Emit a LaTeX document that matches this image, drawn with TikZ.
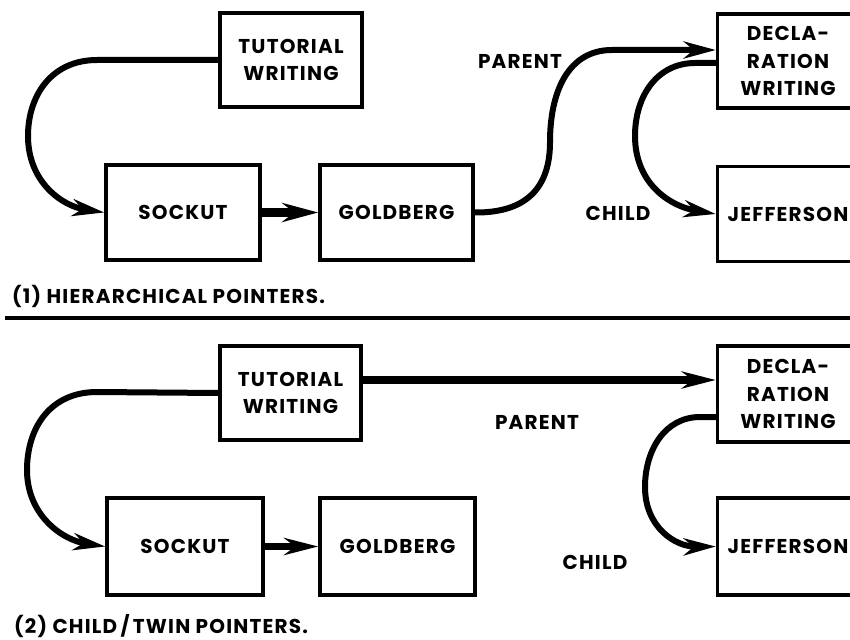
\documentclass[tikz,border=0pt]{standalone}
\usepackage{fontspec}
\setmainfont{Poppins}[LetterSpace=6]
\usetikzlibrary{arrows.meta,calc}

\tikzset{
  lbl/.style={font=\bfseries\fontsize{20}{27}\selectfont, inner sep=0pt},
  recbox/.style={draw, line width=3.5pt, align=center, inner sep=0pt,
    font=\bfseries\fontsize{20}{27.5}\selectfont},
  link/.style={line width=6pt, -{Stealth[length=32pt,width=17pt,inset=10pt]}},
  thicklink/.style={line width=9pt, -{Stealth[length=36pt,width=19pt,inset=12pt]}},
  rule/.style={line width=4pt}
}

\begin{document}
\begin{tikzpicture}[x=1pt,y=-1pt]
\useasboundingbox (0,0) rectangle (850,639);
\clip (0,0) rectangle (850,639);

% ---------- (1) hierarchical pointers ----------
\node[recbox, minimum width=142pt, minimum height=94pt] (tut1) at (291,60) {TUTORIAL\\WRITING};
\node[recbox, minimum width=154pt, minimum height=95pt] (sock1) at (183,212.5) {SOCKUT};
\node[recbox, minimum width=153pt, minimum height=95pt] (gold1) at (396.5,212.5) {GOLDBERG};
\node[recbox, minimum width=141pt, minimum height=94pt] (decl1) at (788,61) {DECLA-\\RATION\\WRITING};
\node[recbox, minimum width=141pt, minimum height=95pt] (jeff1) at (788,214) {JEFFERSON};

\node[lbl] (par1) at (520,61) {PARENT};
\node[lbl] (chi1) at (618,213) {CHILD};

\draw[link] (tut1.west) -- (97,60)
  .. controls (52,60) and (28,95) .. (28,136)
  .. controls (28,182) and (62,206) .. (sock1.west);
\draw[thicklink] (sock1.east) -- (gold1.west);
\draw[link] (gold1.east)
  .. controls (532,213) and (550,182) .. (550,142)
  .. controls (550,92) and (568,50) .. (612,50)
  -- ([yshift=11pt]decl1.west);
\draw[link] ([yshift=-2pt]decl1.west) -- (695,63)
  .. controls (658,63) and (635,95) .. (635,136)
  .. controls (635,182) and (668,206) .. (jeff1.west);

\node[lbl, anchor=base west] (cap1) at (12,303) {(1) HIERARCHICAL POINTERS.};
\coordinate (ruleL) at (5,318);
\coordinate (ruleR) at (850,318);
\draw[rule] (ruleL) -- (ruleR);

% ---------- (2) child/twin pointers ----------
\node[recbox, minimum width=141pt, minimum height=94pt] (tut2) at (290.5,393) {TUTORIAL\\WRITING};
\node[recbox, minimum width=156pt, minimum height=97pt] (sock2) at (185,546.5) {SOCKUT};
\node[recbox, minimum width=155pt, minimum height=97pt] (gold2) at (397.5,546.5) {GOLDBERG};
\node[recbox, minimum width=141pt, minimum height=96pt] (decl2) at (788,394) {DECLA-\\RATION\\WRITING};
\node[recbox, minimum width=141pt, minimum height=97pt] (jeff2) at (788,546.5) {JEFFERSON};

\node[lbl] (par2) at (537,422) {PARENT};
\node[lbl] (chi2) at (595,562) {CHILD};

\draw[link] (tut2.west) -- (97,392)
  .. controls (50,392) and (27,428) .. (27,470)
  .. controls (27,515) and (62,540) .. (sock2.west);
\draw[line width=7pt, -{Stealth[length=34pt,width=17pt,inset=11pt]}] (sock2.east) -- (gold2.west);
\draw[line width=8pt, -{Stealth[length=34pt,width=17pt,inset=11pt]}]
  ([yshift=13pt]tut2.east) -- ([yshift=13pt]tut2.east -| decl2.west);
\draw[link] ([yshift=-23pt]decl2.west) -- (700,417)
  .. controls (665,417) and (645,450) .. (645,487)
  .. controls (645,527) and (675,547) .. (jeff2.west);

\node[lbl, anchor=base west] (cap2) at (14,633) {(2) CHILD\,/\,TWIN POINTERS.};
\end{tikzpicture}
\end{document}
